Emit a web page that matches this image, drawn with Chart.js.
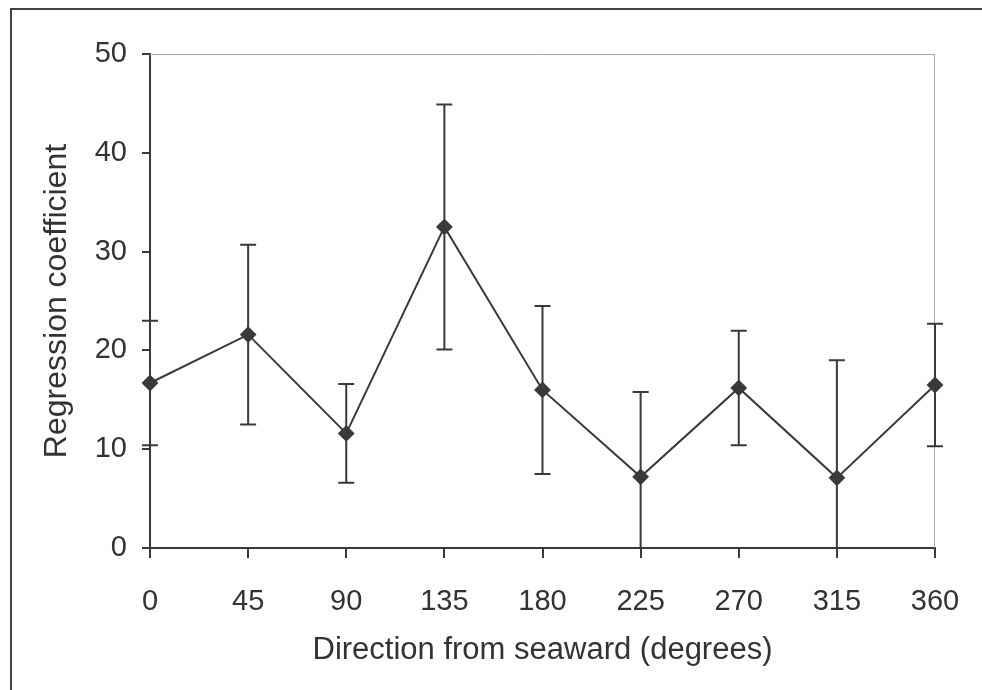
<!DOCTYPE html>
<html>
<head>
<meta charset="utf-8">
<script src="https://cdn.jsdelivr.net/npm/chart.js@4.4.1/dist/chart.umd.min.js"></script>
<style>
  html, body { margin:0; padding:0; background:#fff; }
  #wrap { position:relative; width:982px; height:690px; }
  #frame { position:absolute; left:10px; top:8px; right:0; bottom:0;
           border-left:2px solid #444; border-top:2px solid #444; pointer-events:none; }
</style>
</head>
<body>
<div id="wrap">
  <canvas id="chart" width="982" height="690"></canvas>
  <div id="frame"></div>
</div>
<script>
// values
const directions = [0, 45, 90, 135, 180, 225, 270, 315, 360];
const coefs      = [16.7, 21.6, 11.6, 32.5, 16.0, 7.2, 16.2, 7.1, 16.5];
const errs       = [6.3, 9.1, 5.0, 12.4, 8.5, 8.6, 5.8, 11.9, 6.2];

const ink = '#3a3a3a';
const fontFam = '"Liberation Sans", Arial, sans-serif';

// error bars + faint top/right plot border
const errorBars = {
  id: 'errorBars',
  afterDatasetsDraw(chart){
    const {ctx, chartArea:a, scales:{x, y}} = chart;
    ctx.save();
    ctx.strokeStyle = '#aaa';
    ctx.lineWidth = 1;
    ctx.beginPath();
    ctx.moveTo(a.left, a.top + 0.5); ctx.lineTo(a.right, a.top + 0.5);
    ctx.moveTo(a.right - 0.5, a.top); ctx.lineTo(a.right - 0.5, a.bottom);
    ctx.stroke();

    // clip vertically only, so the end caps at 0 and 360 stay whole
    ctx.beginPath();
    ctx.rect(0, a.top, chart.width, a.bottom - a.top);
    ctx.clip();
    ctx.strokeStyle = ink;
    ctx.lineWidth = 2;
    directions.forEach((d, i) => {
      const px = x.getPixelForValue(d);
      const hi = y.getPixelForValue(coefs[i] + errs[i]);
      const lo = y.getPixelForValue(coefs[i] - errs[i]);
      ctx.beginPath();
      ctx.moveTo(px, hi); ctx.lineTo(px, lo);
      ctx.moveTo(px - 8, hi); ctx.lineTo(px + 8, hi);
      ctx.moveTo(px - 8, lo); ctx.lineTo(px + 8, lo);
      ctx.stroke();
    });
    ctx.restore();
  }
};

new Chart(document.getElementById('chart'), {
  type: 'scatter',
  data: {
    datasets: [{
      data: directions.map((d, i) => ({x: d, y: coefs[i]})),
      showLine: true,
      borderColor: ink,
      borderWidth: 2,
      pointStyle: 'rectRot',
      pointRadius: 7,
      pointBackgroundColor: ink,
      pointBorderColor: ink,
      clip: false
    }]
  },
  options: {
    responsive: false,
    animation: false,
    layout: { padding: { left: 0, top: 54, right: 47, bottom: 0 } },
    plugins: { legend: { display: false }, tooltip: { enabled: false } },
    scales: {
      x: {
        type: 'linear', min: 0, max: 360,
        afterFit: s => { s.height = 142; s.paddingLeft = 0; s.paddingRight = 0; },
        border: { color: ink, width: 2 },
        grid: { drawOnChartArea: false, tickLength: 10, color: ink, lineWidth: 2 },
        ticks: { stepSize: 45, padding: 27, color: '#333', font: { family: fontFam, size: 29 } },
        title: { display: true, text: 'Direction from seaward (degrees)', color: '#333',
                 font: { family: fontFam, size: 31 }, padding: { bottom: 21 } }
      },
      y: {
        min: 0, max: 50,
        afterFit: s => { s.width = 150; s.paddingTop = 0; s.paddingBottom = 0; },
        border: { color: ink, width: 2 },
        grid: { drawOnChartArea: false, tickLength: 8, color: ink, lineWidth: 2 },
        ticks: { stepSize: 10, padding: 15, color: '#333', font: { family: fontFam, size: 29 } },
        title: { display: true, text: 'Regression coefficient', color: '#333',
                 font: { family: fontFam, size: 32 }, padding: { top: 38 } }
      }
    }
  },
  plugins: [errorBars]
});
</script>
</body>
</html>
